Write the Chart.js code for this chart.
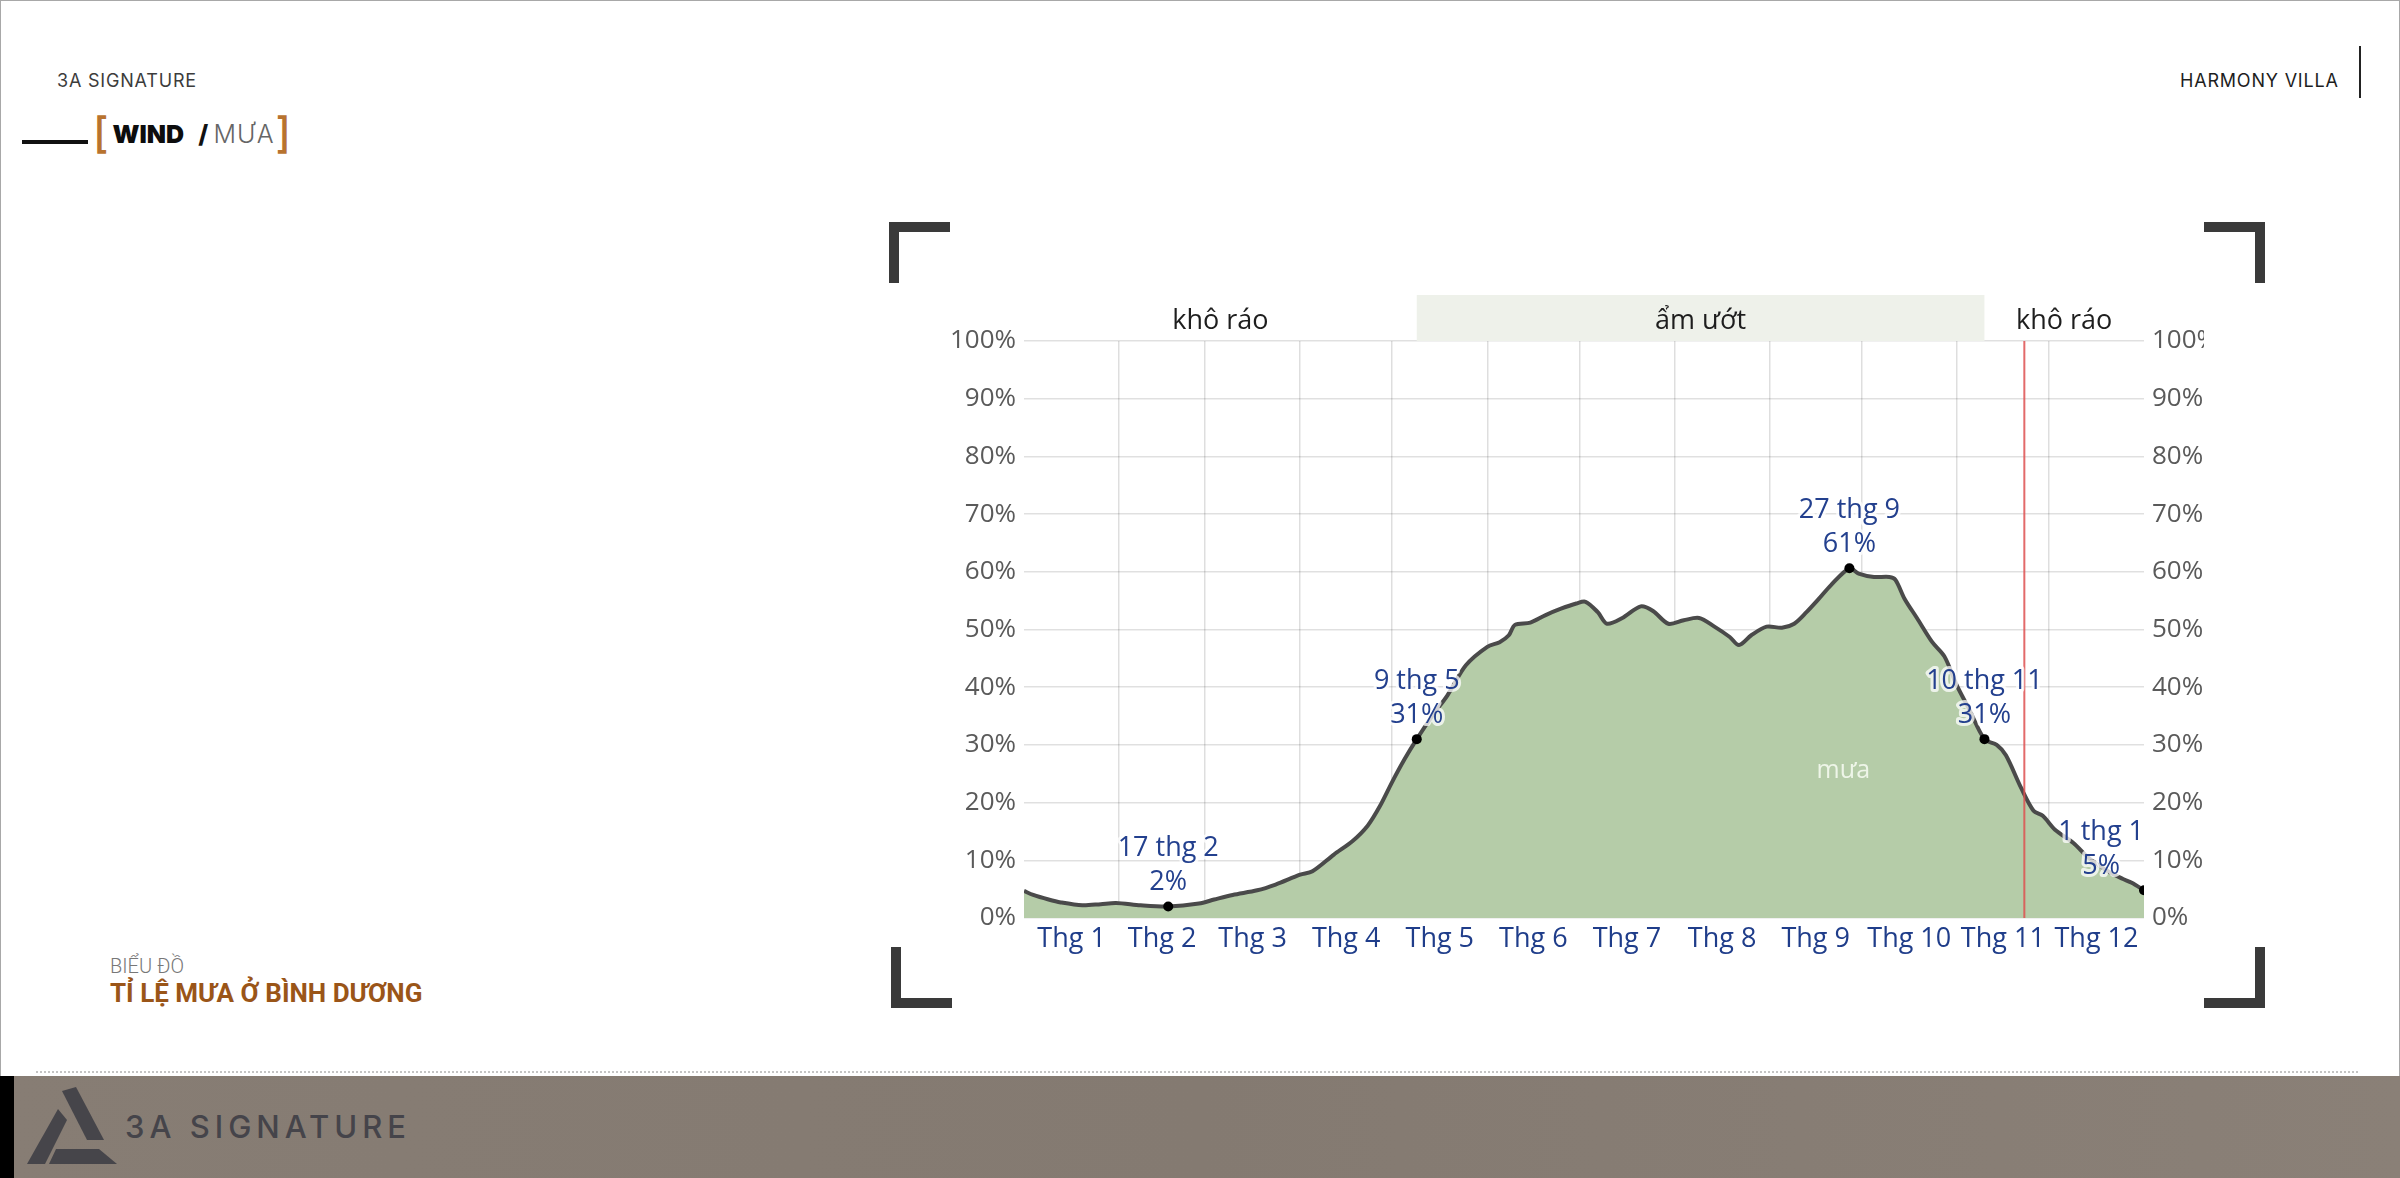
<!DOCTYPE html>
<html>
<head>
<meta charset="utf-8">
<script src="https://cdn.jsdelivr.net/npm/chart.js@4.4.1/dist/chart.umd.min.js"></script>
<style>
  html, body { margin: 0; padding: 0; }
  body { width: 2400px; height: 1178px; position: relative; overflow: hidden; background: #fff; font-family: "Open Sans", sans-serif; }
  .frame { position: absolute; left: 0; top: 0; width: 2398px; height: 1176px; border: 1px solid #a8a8a8; border-bottom: none; }
  .abs { position: absolute; white-space: nowrap; }
  .brand { left: 57px; top: 70px; font: 400 18px Inter, sans-serif; color: #3c3c3c; letter-spacing: 0.8px; }
  .harmony { left: 2180px; top: 70px; font: 400 18px Inter, sans-serif; color: #1e1e1e; letter-spacing: 0.8px; }
  .vbar { left: 2359px; top: 46px; width: 2px; height: 52px; background: #222; }
  .dash { left: 22px; top: 140px; width: 66px; height: 4px; background: #111; }
  .title { left: 93px; top: 112px; font-family: Inter, sans-serif; line-height: 42px; }
  .title .br { color: #b8732f; font-size: 42px; font-weight: 500; }
  .title .wind { color: #0d0d0d; font-size: 25px; font-weight: 900; position: relative; top: -5px; margin: 0 14px 0 4px; }
  .title .slash { color: #111; font-size: 25px; font-weight: 800; position: relative; top: -5px; }
  .title .mua { color: #666; font-size: 25px; font-weight: 300; position: relative; top: -5px; letter-spacing: 1px; margin-right: 1px; }
  .sub1 { left: 110px; top: 954px; font: 300 20px Roboto, sans-serif; color: #777; }
  .sub2 { left: 110px; top: 978px; font: 700 26px Roboto, sans-serif; color: #9a5518; }
  .corner { position: absolute; width: 61px; height: 61px; border-color: #3a3a3a; border-style: solid; border-width: 0; box-sizing: border-box; }
  .tl { left: 889px; top: 222px; border-top-width: 10px; border-left-width: 10px; }
  .tr { left: 2204px; top: 222px; border-top-width: 10px; border-right-width: 10px; }
  .bl { left: 891px; top: 947px; border-bottom-width: 10px; border-left-width: 10px; }
  .brc { left: 2204px; top: 947px; border-bottom-width: 10px; border-right-width: 10px; }
  .dots { left: 36px; top: 1071px; width: 2322px; border-top: 2px dotted #c4c4c4; }
  .footer { left: 0; top: 1076px; width: 2400px; height: 102px; background: linear-gradient(90deg, #877d74, #847a71 50%, #8a8077); }
  .strip { left: 0; top: 1076px; width: 14px; height: 102px; background: #000; }
  .flogo { left: 125px; top: 1108px; font: 500 31px Inter, sans-serif; color: #45444a; letter-spacing: 5px; }
  #rain-chart { position: absolute; left: 940px; top: 283px; }
</style>
</head>
<body>
<div class="frame"></div>
<div class="abs brand">3A SIGNATURE</div>
<div class="abs harmony">HARMONY VILLA</div>
<div class="abs vbar"></div>
<div class="abs dash"></div>
<div class="abs title"><span class="br">[</span><span class="wind">WIND</span><span class="slash">/ </span><span class="mua">MƯA</span><span class="br">]</span></div>
<div class="abs sub1">BIỂU ĐỒ</div>
<div class="abs sub2">TỈ LỆ MƯA Ở BÌNH DƯƠNG</div>

<div class="corner tl"></div>
<div class="corner tr"></div>
<div class="corner bl"></div>
<div class="corner brc"></div>

<canvas id="rain-chart" width="1264" height="690"></canvas>

<div class="abs dots"></div>
<div class="abs footer"></div>
<div class="abs strip"></div>
<svg class="abs" style="left:0;top:1076px" width="130" height="102">
  <g fill="#46454a">
    <polygon points="62,15 76,11 104,64 87,64"/>
    <polygon points="58,33 67,44 45,88 27,88"/>
    <polygon points="56,73 99,73 117,88 49,88"/>
  </g>
</svg>
<div class="abs flogo">3A SIGNATURE</div>

<script>
const monthLabels = ['Thg 1', 'Thg 2', 'Thg 3', 'Thg 4', 'Thg 5', 'Thg 6', 'Thg 7', 'Thg 8', 'Thg 9', 'Thg 10', 'Thg 11', 'Thg 12'];
const monthStarts = [0, 31, 59, 90, 120, 151, 181, 212, 243, 273, 304, 334, 365];
const yTicks = [0, 10, 20, 30, 40, 50, 60, 70, 80, 90, 100];

// day of year -> chance of rain (%)
const days = [0, 3, 8, 12, 19, 25, 30, 38, 47, 57, 62, 68, 76, 82, 90, 94, 101, 107, 112, 116,
  120, 124, 128, 133, 138, 144, 151, 155, 158, 160, 165, 170, 175, 180, 183, 187, 190, 195, 201, 205,
  210, 215, 220, 225, 230, 233, 237, 242, 247, 251, 255, 259, 263, 269, 272, 277, 282, 284, 287, 291,
  296, 300, 304, 308, 313, 317, 320, 325, 329, 332, 336, 342, 347, 353, 358, 361, 365];
const rain = [4.7, 4.0, 3.2, 2.7, 2.2, 2.4, 2.6, 2.2, 2.0, 2.5, 3.2, 4.0, 4.8, 5.8, 7.5, 8.1, 11, 13.3, 16, 19.4,
  23.6, 27.5, 31, 35, 38.6, 43.8, 47, 47.8, 49, 50.8, 51.2, 52.5, 53.6, 54.5, 54.8, 53, 51, 52, 54, 53.2,
  51, 51.6, 52, 50.5, 48.7, 47.3, 49, 50.5, 50.3, 51, 53, 55.3, 57.7, 60.6, 59.7, 59.1, 59.1, 58.6, 55.3, 52,
  47.8, 45.3, 40.3, 36.2, 31, 30, 28.2, 22.5, 18.6, 17.7, 15.3, 13, 10.4, 8.2, 6.8, 6.1, 4.8];

const markDays = [47, 128, 269, 313, 365];
const markVals = [2.0, 31, 60.6, 31, 4.8];
const markDates = ['17 thg 2', '9 thg 5', '27 thg 9', '10 thg 11', '1 thg 1'];
const markPct = ['2%', '31%', '61%', '31%', '5%'];

const wetSeason = [128, 313];
const seasonLabels = ['khô ráo', 'ẩm ướt', 'khô ráo'];
const todayDay = 326;
const areaLabel = 'mưa';
const areaLabelAt = [267, 25.5];

const FONT = '"Open Sans", "Noto Sans", sans-serif';

const overlay = {
  id: 'overlay',
  beforeDatasetsDraw(chart) {
    const { ctx, chartArea: a, scales: { x } } = chart;
    const x0 = x.getPixelForValue(wetSeason[0]);
    const x1 = x.getPixelForValue(wetSeason[1]);
    ctx.save();
    ctx.fillStyle = '#eef1ea';
    ctx.fillRect(x0, a.top - 46, x1 - x0, 46);
    ctx.fillStyle = '#1e1e1e';
    ctx.font = '27px ' + FONT;
    ctx.textAlign = 'center';
    ctx.textBaseline = 'middle';
    const edges = [a.left, x0, x1, a.right];
    seasonLabels.forEach((t, i) => ctx.fillText(t, (edges[i] + edges[i + 1]) / 2, a.top - 20));
    ctx.restore();
  },
  afterDatasetsDraw(chart) {
    const { ctx, chartArea: a, scales: { x, y } } = chart;
    ctx.save();
    const xt = x.getPixelForValue(todayDay);
    ctx.strokeStyle = 'rgba(222,80,80,0.85)';
    ctx.lineWidth = 2;
    ctx.beginPath();
    ctx.moveTo(xt, a.top);
    ctx.lineTo(xt, a.bottom);
    ctx.stroke();

    ctx.fillStyle = '#eef5e8';
    ctx.font = '25px ' + FONT;
    ctx.textAlign = 'center';
    ctx.textBaseline = 'middle';
    ctx.fillText(areaLabel, x.getPixelForValue(areaLabelAt[0]), y.getPixelForValue(areaLabelAt[1]));
    ctx.restore();
  },
  afterDraw(chart) {
    const { ctx, chartArea: a, scales: { x, y } } = chart;
    ctx.save();
    ctx.font = '27px ' + FONT;
    ctx.textAlign = 'center';
    ctx.textBaseline = 'middle';
    ctx.lineJoin = 'round';
    markDays.forEach((d, i) => {
      const px = x.getPixelForValue(d);
      const py = y.getPixelForValue(markVals[i]);
      const w = Math.max(ctx.measureText(markDates[i]).width, ctx.measureText(markPct[i]).width);
      let cx = px;
      if (cx + w / 2 > a.right) cx = a.right - w / 2;
      [[markDates[i], py - 58], [markPct[i], py - 24]].forEach(([t, ty]) => {
        ctx.strokeStyle = 'rgba(255,255,255,0.75)';
        ctx.lineWidth = 6;
        ctx.strokeText(t, cx, ty);
        ctx.fillStyle = '#23408e';
        ctx.fillText(t, cx, ty);
      });
    });
    ctx.restore();
  }
};

const ctx = document.getElementById('rain-chart').getContext('2d');
new Chart(ctx, {
  type: 'line',
  data: {
    datasets: [{
      label: 'mưa',
      data: days.map((d, i) => ({ x: d, y: rain[i] })),
      borderColor: '#4a4a4a',
      borderWidth: 4,
      backgroundColor: '#b5cca8',
      fill: 'origin',
      tension: 0.3,
      pointRadius: 0,
      order: 2
    }, {
      label: 'marks',
      data: markDays.map((d, i) => ({ x: d, y: markVals[i] })),
      showLine: false,
      pointRadius: 5,
      pointBackgroundColor: '#000',
      pointBorderWidth: 0,
      order: 1
    }]
  },
  options: {
    responsive: false,
    animation: false,
    layout: { padding: { top: 58, left: 0, right: 0, bottom: 0 } },
    plugins: { legend: { display: false }, tooltip: { enabled: false } },
    scales: {
      x: {
        type: 'linear', position: 'top', min: 0, max: 365, z: 1,
        afterBuildTicks: s => { s.ticks = monthStarts.slice(1, 12).map(v => ({ value: v })); },
        grid: { color: 'rgba(0,0,0,0.13)', lineWidth: 1.5, drawTicks: false },
        border: { display: false },
        ticks: { display: false },
        afterFit: s => { s.height = 0; }
      },
      months: {
        type: 'linear', position: 'bottom', min: 0, max: 365,
        afterBuildTicks: s => {
          s.ticks = monthLabels.map((m, i) => ({ value: (monthStarts[i] + monthStarts[i + 1]) / 2 }));
        },
        grid: { display: false, drawTicks: false },
        border: { display: false },
        ticks: {
          autoSkip: false, maxRotation: 0, padding: 5,
          color: '#1f3d8a', font: { size: 27, family: FONT },
          callback: (v, i) => monthLabels[i]
        },
        afterFit: s => { s.height = 55; }
      },
      y: {
        position: 'left', min: 0, max: 100, z: 1,
        afterBuildTicks: s => { s.ticks = yTicks.map(v => ({ value: v })); },
        grid: { color: 'rgba(0,0,0,0.12)', lineWidth: 1.5, drawTicks: false },
        border: { display: false },
        ticks: { padding: 8, color: '#5a5a5a', font: { size: 26, family: FONT }, callback: v => v + '%' },
        afterFit: s => { s.width = 84; }
      },
      y2: {
        position: 'right', min: 0, max: 100,
        afterBuildTicks: s => { s.ticks = yTicks.map(v => ({ value: v })); },
        grid: { display: false, drawTicks: false },
        border: { display: false },
        ticks: { padding: 8, color: '#5a5a5a', font: { size: 26, family: FONT }, callback: v => v + '%' },
        afterFit: s => { s.width = 60; }
      }
    }
  },
  plugins: [overlay]
});
</script>
</body>
</html>
